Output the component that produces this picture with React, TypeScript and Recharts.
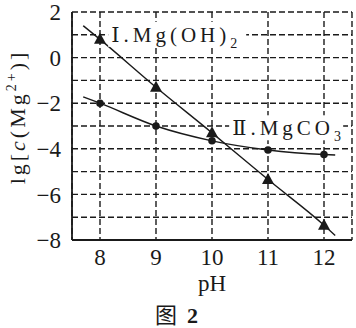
import {
  ComposedChart,
  Line,
  Scatter,
  XAxis,
  YAxis,
  CartesianGrid,
  ReferenceDot,
  Label,
} from "recharts";

const phTicks = [8, 9, 10, 11, 12];
const lgTicks = [2, 1, 0, -1, -2, -3, -4, -5, -6, -7, -8];

// measured points
const phPoints = [8, 9, 10, 11, 12];
const mgOH2 = [0.8, -1.3, -3.3, -5.35, -7.35];
const mgCO3 = [-2, -3, -3.65, -4.05, -4.25];

// the drawn curves run a little past the first and last points
const curvePh = [7.7, 8, 9, 10, 11, 12, 12.2];
const mgOH2Curve = [1.4, 0.8, -1.3, -3.3, -5.35, -7.35, -7.8];
const mgCO3Curve = [-1.72, -2, -3, -3.65, -4.05, -4.25, -4.27];

const ink = "#1a1a1a";
const serif = "Liberation Serif, Times New Roman, DejaVu Serif, serif";

const zip = (xs: number[], ys: number[]) => xs.map((x, i) => ({ ph: x, lg: ys[i] }));

const triangle = (p: any) => (
  <polygon
    points={`${p.cx},${p.cy - 6.5} ${p.cx - 6},${p.cy + 4.5} ${p.cx + 6},${p.cy + 4.5}`}
    fill={ink}
  />
);
const dot = (p: any) => <circle cx={p.cx} cy={p.cy} r={3.8} fill={ink} />;

function Tag({ cx, cy, w, children }: any) {
  return (
    <g>
      <rect x={cx - 3} y={cy - 13} width={w} height={25} fill="#fff" />
      <text x={cx} y={cy + 7} fontFamily={serif} fontSize={21} fill={ink} letterSpacing={4}>
        {children}
      </text>
    </g>
  );
}

const frameLine = { stroke: ink, strokeWidth: 1.8 };

export default function App() {
  return (
    <div style={{ position: "absolute", left: 0, top: 0, width: 356, height: 328, background: "#fff" }}>
      <ComposedChart
        width={356}
        height={328}
        style={{ display: "block" }}
        margin={{ top: 12, right: 4, left: 0, bottom: 0 }}
      >
        <CartesianGrid stroke={ink} strokeDasharray="6 3" strokeWidth={1.4} />
        <XAxis
          dataKey="ph"
          type="number"
          domain={[7.5, 12.5]}
          ticks={phTicks}
          tickLine={false}
          axisLine={frameLine}
          height={88}
          tick={{ fill: ink, fontFamily: serif, fontSize: 23 }}
          tickMargin={3}
        >
          <Label
            content={(props: any) => {
              const vb = props.viewBox;
              return (
                <g>
                  <text x={212} y={vb.y + 51} textAnchor="middle" fontFamily={serif} fontSize={23} fill={ink}>
                    pH
                  </text>
                  <text x={155} y={323} fontFamily={'"Noto Sans CJK SC", sans-serif'} fontSize={22} fill={ink}>
                    图
                  </text>
                  <text x={187} y={323} fontFamily={serif} fontSize={22} fontWeight="bold" fill={ink}>
                    2
                  </text>
                </g>
              );
            }}
          />
        </XAxis>
        <XAxis
          xAxisId="top"
          orientation="top"
          dataKey="ph"
          type="number"
          domain={[7.5, 12.5]}
          ticks={phTicks}
          tick={false}
          tickLine={false}
          axisLine={frameLine}
          height={0}
        />
        <YAxis
          dataKey="lg"
          type="number"
          domain={[-8, 2]}
          ticks={lgTicks}
          interval={0}
          tickLine={false}
          axisLine={frameLine}
          width={72}
          tickFormatter={(v: number) => (v % 2 === 0 ? (v < 0 ? `\u2212${-v}` : `${v}`) : "")}
          tick={{ fill: ink, fontFamily: serif, fontSize: 23 }}
          tickMargin={5}
        >
          <Label
            content={() => (
              <text
                x={25}
                y={117}
                transform="rotate(-90 25 117)"
                textAnchor="middle"
                fontFamily={serif}
                fontSize={22}
                fill={ink}
                letterSpacing={3}
              >
                lg[<tspan fontStyle="italic">c</tspan>(Mg
                <tspan dy={-9} fontSize={14}>2+</tspan>
                <tspan dy={9}>)]</tspan>
              </text>
            )}
          />
        </YAxis>
        <YAxis
          yAxisId="right"
          orientation="right"
          dataKey="lg"
          type="number"
          domain={[-8, 2]}
          ticks={lgTicks}
          tick={false}
          tickLine={false}
          axisLine={frameLine}
          width={0}
        />
        <Line
          data={zip(curvePh, mgOH2Curve)}
          dataKey="lg"
          type="monotone"
          stroke={ink}
          strokeWidth={1.4}
          dot={false}
          isAnimationActive={false}
        />
        <Line
          data={zip(curvePh, mgCO3Curve)}
          dataKey="lg"
          type="monotone"
          stroke={ink}
          strokeWidth={1.4}
          dot={false}
          isAnimationActive={false}
        />
        <Scatter data={zip(phPoints, mgOH2)} dataKey="lg" shape={triangle} isAnimationActive={false} />
        <Scatter data={zip(phPoints, mgCO3)} dataKey="lg" shape={dot} isAnimationActive={false} />
        <ReferenceDot
          x={8.2}
          y={1}
          r={0}
          shape={(p: any) => (
            <Tag cx={p.cx} cy={p.cy} w={138}>
              Ⅰ.Mg(OH)<tspan dy={6} fontSize={14}>2</tspan>
            </Tag>
          )}
        />
        <ReferenceDot
          x={10.36}
          y={-3.1}
          r={0}
          shape={(p: any) => (
            <Tag cx={p.cx} cy={p.cy} w={114}>
              Ⅱ.MgCO<tspan dy={6} fontSize={14}>3</tspan>
            </Tag>
          )}
        />
      </ComposedChart>
    </div>
  );
}
